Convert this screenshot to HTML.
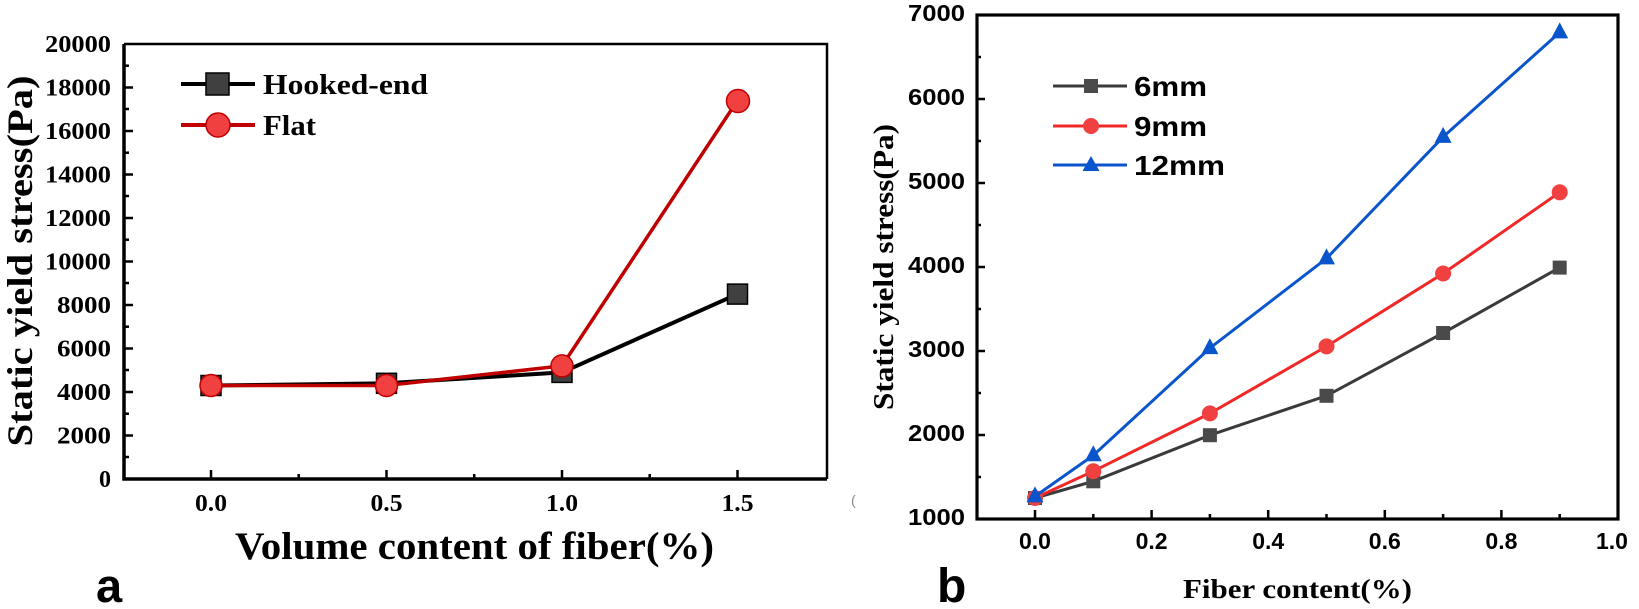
<!DOCTYPE html>
<html><head><meta charset="utf-8"><style>
html,body{margin:0;padding:0;background:#fff;}
svg{display:block;}
.ser{font-family:"Liberation Serif",serif;font-weight:bold;}
.san{font-family:"Liberation Sans",sans-serif;font-weight:bold;}
</style></head><body>
<svg width="1639" height="609" viewBox="0 0 1639 609" xmlns="http://www.w3.org/2000/svg">
<!-- Panel a -->
<g>
<path d="M124,44 H827 V479" fill="none" stroke="#000" stroke-width="2.5"/>
<path d="M124,44 V479 H827" fill="none" stroke="#000" stroke-width="3.5"/>
<g stroke="#000" stroke-width="2.5">
<line x1="124" y1="479" x2="133" y2="479"/><line x1="124" y1="435.5" x2="133" y2="435.5"/><line x1="124" y1="392" x2="133" y2="392"/><line x1="124" y1="348.5" x2="133" y2="348.5"/><line x1="124" y1="305" x2="133" y2="305"/><line x1="124" y1="261.5" x2="133" y2="261.5"/><line x1="124" y1="218" x2="133" y2="218"/><line x1="124" y1="174.5" x2="133" y2="174.5"/><line x1="124" y1="131" x2="133" y2="131"/><line x1="124" y1="87.5" x2="133" y2="87.5"/>
<line x1="124" y1="457" x2="129" y2="457"/><line x1="124" y1="413.7" x2="129" y2="413.7"/><line x1="124" y1="370" x2="129" y2="370"/><line x1="124" y1="326.7" x2="129" y2="326.7"/><line x1="124" y1="283" x2="129" y2="283"/><line x1="124" y1="239.7" x2="129" y2="239.7"/><line x1="124" y1="196" x2="129" y2="196"/><line x1="124" y1="152.7" x2="129" y2="152.7"/><line x1="124" y1="109" x2="129" y2="109"/><line x1="124" y1="65.7" x2="129" y2="65.7"/>
<line x1="211" y1="479" x2="211" y2="470"/><line x1="386.5" y1="479" x2="386.5" y2="470"/><line x1="562" y1="479" x2="562" y2="470"/><line x1="737.5" y1="479" x2="737.5" y2="470"/>
<line x1="298.7" y1="479" x2="298.7" y2="474"/><line x1="474.2" y1="479" x2="474.2" y2="474"/><line x1="649.7" y1="479" x2="649.7" y2="474"/>
</g>
<g class="ser" font-size="24" text-anchor="end">
<text x="111" y="487" >0</text>
<text x="111" y="443.5" textLength="54" lengthAdjust="spacingAndGlyphs">2000</text>
<text x="111" y="400" textLength="54" lengthAdjust="spacingAndGlyphs">4000</text>
<text x="111" y="356.5" textLength="54" lengthAdjust="spacingAndGlyphs">6000</text>
<text x="111" y="313" textLength="54" lengthAdjust="spacingAndGlyphs">8000</text>
<text x="111" y="269.5" textLength="66" lengthAdjust="spacingAndGlyphs">10000</text>
<text x="111" y="226" textLength="66" lengthAdjust="spacingAndGlyphs">12000</text>
<text x="111" y="182.5" textLength="66" lengthAdjust="spacingAndGlyphs">14000</text>
<text x="111" y="139" textLength="66" lengthAdjust="spacingAndGlyphs">16000</text>
<text x="111" y="95.5" textLength="66" lengthAdjust="spacingAndGlyphs">18000</text>
<text x="111" y="52" textLength="66" lengthAdjust="spacingAndGlyphs">20000</text>
</g>
<g class="ser" font-size="24" text-anchor="middle">
<text x="211" y="511" textLength="32" lengthAdjust="spacingAndGlyphs">0.0</text><text x="386.5" y="511" textLength="32" lengthAdjust="spacingAndGlyphs">0.5</text><text x="562" y="511" textLength="32" lengthAdjust="spacingAndGlyphs">1.0</text><text x="737.5" y="511" textLength="32" lengthAdjust="spacingAndGlyphs">1.5</text>
</g>
<text class="ser" x="235" y="559" font-size="39" textLength="479" lengthAdjust="spacingAndGlyphs">Volume content of fiber(%)</text>
<text class="ser" font-size="36" text-anchor="middle" transform="translate(32,261) rotate(-90)" textLength="371" lengthAdjust="spacingAndGlyphs">Static yield stress(Pa)</text>
<text class="san" x="96" y="602" font-size="47">a</text>
<polyline points="211,385.5 386.5,383.3 562,372.4 737.5,294.1" fill="none" stroke="#000" stroke-width="4"/>
<g fill="#404040" stroke="#000" stroke-width="1.5">
<rect x="201" y="375.5" width="20" height="20"/><rect x="376.5" y="373.3" width="20" height="20"/><rect x="552" y="362.4" width="20" height="20"/><rect x="727.5" y="284.1" width="20" height="20"/>
</g>
<polyline points="211,385.5 386.5,385.5 562,365.9 737.5,100.5" fill="none" stroke="#c00000" stroke-width="3.5"/>
<g fill="#f04040" stroke="#c00000" stroke-width="1.5">
<circle cx="211" cy="385.5" r="11"/><circle cx="386.5" cy="385.5" r="11"/><circle cx="562" cy="365.9" r="11"/><circle cx="738" cy="101" r="11.5"/>
</g>
<line x1="181" y1="84" x2="255" y2="84" stroke="#000" stroke-width="4"/>
<rect x="206" y="73" width="23" height="22" fill="#404040" stroke="#000" stroke-width="1.5"/>
<text class="ser" x="263" y="94" font-size="29" textLength="165" lengthAdjust="spacingAndGlyphs">Hooked-end</text>
<line x1="181" y1="125" x2="255" y2="125" stroke="#c00000" stroke-width="4"/>
<circle cx="218" cy="125" r="12" fill="#f04040" stroke="#c00000" stroke-width="1.5"/>
<text class="ser" x="263" y="135" font-size="29" textLength="53" lengthAdjust="spacingAndGlyphs">Flat</text>
</g>

<!-- Panel b -->
<g>
<rect x="977" y="15" width="641" height="504" fill="none" stroke="#000" stroke-width="3.2"/>
<g stroke="#000" stroke-width="2.5">
<line x1="977" y1="435" x2="985" y2="435"/><line x1="977" y1="351" x2="985" y2="351"/><line x1="977" y1="267" x2="985" y2="267"/><line x1="977" y1="183" x2="985" y2="183"/><line x1="977" y1="99" x2="985" y2="99"/>
<line x1="977" y1="477" x2="981" y2="477"/><line x1="977" y1="393" x2="981" y2="393"/><line x1="977" y1="309" x2="981" y2="309"/><line x1="977" y1="225" x2="981" y2="225"/><line x1="977" y1="141" x2="981" y2="141"/><line x1="977" y1="57" x2="981" y2="57"/>
<line x1="1035" y1="519" x2="1035" y2="510"/><line x1="1151.6" y1="519" x2="1151.6" y2="510"/><line x1="1268.2" y1="519" x2="1268.2" y2="510"/><line x1="1384.8" y1="519" x2="1384.8" y2="510"/><line x1="1501.4" y1="519" x2="1501.4" y2="510"/>
<line x1="1093.3" y1="519" x2="1093.3" y2="514"/><line x1="1209.9" y1="519" x2="1209.9" y2="514"/><line x1="1326.5" y1="519" x2="1326.5" y2="514"/><line x1="1443.1" y1="519" x2="1443.1" y2="514"/><line x1="1559.7" y1="519" x2="1559.7" y2="514"/>
</g>
<g class="san" font-size="23" text-anchor="end">
<text x="965" y="525" textLength="57" lengthAdjust="spacingAndGlyphs">1000</text>
<text x="965" y="441" textLength="57" lengthAdjust="spacingAndGlyphs">2000</text>
<text x="965" y="357" textLength="57" lengthAdjust="spacingAndGlyphs">3000</text>
<text x="965" y="273" textLength="57" lengthAdjust="spacingAndGlyphs">4000</text>
<text x="965" y="189" textLength="57" lengthAdjust="spacingAndGlyphs">5000</text>
<text x="965" y="105" textLength="57" lengthAdjust="spacingAndGlyphs">6000</text>
<text x="965" y="21" textLength="57" lengthAdjust="spacingAndGlyphs">7000</text>
</g>
<g class="san" font-size="23" text-anchor="middle">
<text x="1035" y="549">0.0</text><text x="1151.6" y="549">0.2</text><text x="1268.2" y="549">0.4</text><text x="1384.8" y="549">0.6</text><text x="1501.4" y="549">0.8</text><text x="1612" y="549">1.0</text>
</g>
<text class="ser" x="1183" y="598" font-size="27" textLength="229" lengthAdjust="spacingAndGlyphs">Fiber content(%)</text>
<text class="ser" font-size="28" text-anchor="middle" transform="translate(893,267) rotate(-90)" textLength="286" lengthAdjust="spacingAndGlyphs">Static yield stress(Pa)</text>
<text class="san" x="937" y="602" font-size="48">b</text>
<text x="851" y="505" font-family="Liberation Sans" font-size="14" fill="#888">(</text>
<polyline points="1035,498 1093.3,481.3 1209.9,435.2 1326.5,395.8 1443.1,333 1559.7,267.6" fill="none" stroke="#3a3a3a" stroke-width="3"/>
<g fill="#4a4a4a">
<rect x="1028" y="491" width="14" height="14"/><rect x="1086.3" y="474.3" width="14" height="14"/><rect x="1202.9" y="428.2" width="14" height="14"/><rect x="1319.5" y="388.8" width="14" height="14"/><rect x="1436.1" y="326" width="14" height="14"/><rect x="1552.7" y="260.6" width="14" height="14"/>
</g>
<polyline points="1035,498 1093.3,471.2 1209.9,413.4 1326.5,346.4 1443.1,273.5 1559.7,192.3" fill="none" stroke="#f02828" stroke-width="3"/>
<g fill="#f04040">
<circle cx="1035" cy="498" r="8"/><circle cx="1093.3" cy="471.2" r="8"/><circle cx="1209.9" cy="413.4" r="8"/><circle cx="1326.5" cy="346.4" r="8"/><circle cx="1443.1" cy="273.5" r="8"/><circle cx="1559.7" cy="192.3" r="8"/>
</g>
<polyline points="1035,496.4 1093.3,455.3 1209.9,348.1 1326.5,258.4 1443.1,136.9 1559.7,32.4" fill="none" stroke="#0a55cc" stroke-width="3"/>
<g fill="#0a55cc">
<polygon points="1035,486.4 1043.5,502.4 1026.5,502.4"/><polygon points="1093.3,445.3 1101.8,461.3 1084.8,461.3"/><polygon points="1209.9,338.1 1218.4,354.1 1201.4,354.1"/><polygon points="1326.5,248.4 1335,264.4 1318,264.4"/><polygon points="1443.1,126.9 1451.6,142.9 1434.6,142.9"/><polygon points="1559.7,22.4 1568.2,38.4 1551.2,38.4"/>
</g>
<line x1="1053" y1="86" x2="1127" y2="86" stroke="#3a3a3a" stroke-width="3"/>
<rect x="1084" y="79" width="14" height="14" fill="#4a4a4a"/>
<text class="san" x="1134" y="96" font-size="28" textLength="73" lengthAdjust="spacingAndGlyphs">6mm</text>
<line x1="1053" y1="126" x2="1127" y2="126" stroke="#f02828" stroke-width="3"/>
<circle cx="1091" cy="126" r="8" fill="#f04040"/>
<text class="san" x="1134" y="136" font-size="28" textLength="73" lengthAdjust="spacingAndGlyphs">9mm</text>
<line x1="1053" y1="165" x2="1127" y2="165" stroke="#0a55cc" stroke-width="3"/>
<polygon points="1091,156 1099.5,171 1082.5,171" fill="#0a55cc"/>
<text class="san" x="1134" y="175" font-size="28" textLength="91" lengthAdjust="spacingAndGlyphs">12mm</text>
</g>
</svg>
</body></html>
